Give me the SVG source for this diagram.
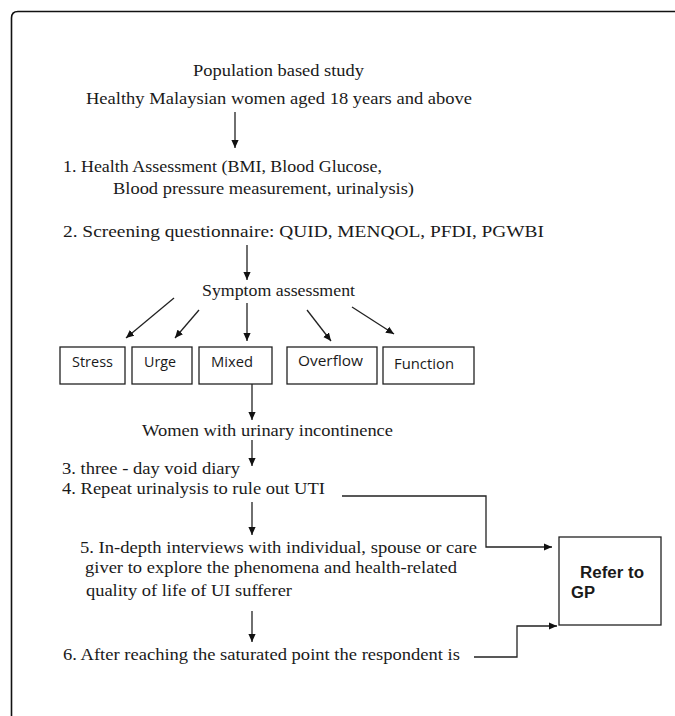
<svg xmlns="http://www.w3.org/2000/svg" width="675" height="716" viewBox="0 0 675 716">
<style>
.t{font-family:"Times New Roman","Liberation Serif",serif;font-size:17px;fill:#1a1a1a}
.s{font-family:"Open Sans","Liberation Sans",Arial,sans-serif;font-size:14px;fill:#1a1a1a}
.b{font-family:"Liberation Sans",Arial,sans-serif;font-size:16px;font-weight:bold;fill:#1a1a1a}
.box{fill:#fff;stroke:#222;stroke-width:1.3}
.c{fill:none;stroke:#222;stroke-width:1.3}
</style>
<defs>
<marker id="ah" viewBox="0 0 10 10" refX="10" refY="5" markerWidth="8" markerHeight="8" orient="auto" markerUnits="userSpaceOnUse">
<path d="M0,0.5 L10,5 L0,9.5 z" fill="#111"/>
</marker>
</defs>
<rect width="675" height="716" fill="#fff"/>
<path d="M11.5,716 V18 Q11.5,11.5 18,11.5 H675" fill="none" stroke="#111" stroke-width="1.6"/>

<g id="population">
<text class="t" x="193" y="76" textLength="171" lengthAdjust="spacingAndGlyphs">Population based study</text>
<text class="t" x="86" y="104" textLength="386" lengthAdjust="spacingAndGlyphs">Healthy Malaysian women aged 18 years and above</text>
</g>
<g id="step1">
<text class="t" x="63" y="172" textLength="319" lengthAdjust="spacingAndGlyphs">1.  Health Assessment  (BMI, Blood Glucose,</text>
<text class="t" x="113" y="194" textLength="301" lengthAdjust="spacingAndGlyphs">Blood pressure measurement, urinalysis)</text>
</g>
<g id="step2">
<text class="t" x="63" y="237" textLength="481" lengthAdjust="spacingAndGlyphs">2.   Screening questionnaire:  QUID, MENQOL,  PFDI, PGWBI</text>
</g>
<g id="symptom">
<text class="t" x="202" y="296" textLength="153" lengthAdjust="spacingAndGlyphs">Symptom assessment</text>
</g>
<g id="stress">
<rect class="box" x="60" y="347" width="65" height="37"/>
<text class="s" x="72" y="367" textLength="41" lengthAdjust="spacingAndGlyphs">Stress</text>
</g>
<g id="urge">
<rect class="box" x="132" y="347" width="60" height="37"/>
<text class="s" x="144" y="367" textLength="32" lengthAdjust="spacingAndGlyphs">Urge</text>
</g>
<g id="mixed">
<rect class="box" x="199" y="347" width="73" height="37"/>
<text class="s" x="211" y="367" textLength="42" lengthAdjust="spacingAndGlyphs">Mixed</text>
</g>
<g id="overflow">
<rect class="box" x="287" y="347" width="90" height="37"/>
<text class="s" x="298" y="366" textLength="65" lengthAdjust="spacingAndGlyphs">Overflow</text>
</g>
<g id="function">
<rect class="box" x="383" y="347" width="91" height="37"/>
<text class="s" x="394" y="369" textLength="60" lengthAdjust="spacingAndGlyphs">Function</text>
</g>
<g id="women">
<text class="t" x="142" y="436" textLength="251" lengthAdjust="spacingAndGlyphs">Women with urinary incontinence</text>
</g>
<g id="step3">
<text class="t" x="62" y="474" textLength="178" lengthAdjust="spacingAndGlyphs">3. three - day void diary</text>
</g>
<g id="step4">
<text class="t" x="62" y="494" textLength="263" lengthAdjust="spacingAndGlyphs">4. Repeat urinalysis to rule out UTI</text>
</g>
<g id="step5">
<text class="t" x="80" y="553" textLength="397" lengthAdjust="spacingAndGlyphs">5. In-depth interviews with individual, spouse or care</text>
<text class="t" x="85" y="573" textLength="372" lengthAdjust="spacingAndGlyphs">giver to explore the phenomena and health-related</text>
<text class="t" x="86" y="596" textLength="206" lengthAdjust="spacingAndGlyphs">quality of life of UI sufferer</text>
</g>
<g id="step6">
<text class="t" x="63" y="660" textLength="397" lengthAdjust="spacingAndGlyphs">6. After reaching the saturated point the respondent is</text>
</g>
<g id="refer">
<rect class="box" x="559" y="537" width="102" height="88"/>
<text class="b" x="580" y="578" textLength="64" lengthAdjust="spacingAndGlyphs">Refer to</text>
<text class="b" x="571" y="598" textLength="24" lengthAdjust="spacingAndGlyphs">GP</text>
</g>

<g id="connectors" class="c">
<line x1="235" y1="112" x2="235" y2="148" marker-end="url(#ah)"/>
<line x1="247" y1="245" x2="247" y2="280" marker-end="url(#ah)"/>
<line x1="174" y1="298" x2="126" y2="338" marker-end="url(#ah)"/>
<line x1="199" y1="310" x2="175" y2="338" marker-end="url(#ah)"/>
<line x1="247" y1="303" x2="247" y2="341" marker-end="url(#ah)"/>
<line x1="307" y1="310" x2="331" y2="341" marker-end="url(#ah)"/>
<line x1="352" y1="307" x2="394" y2="334" marker-end="url(#ah)"/>
<line x1="252" y1="384" x2="252" y2="420" marker-end="url(#ah)"/>
<line x1="252" y1="440" x2="252" y2="466" marker-end="url(#ah)"/>
<line x1="252" y1="502" x2="252" y2="535" marker-end="url(#ah)"/>
<line x1="252" y1="611" x2="252" y2="642" marker-end="url(#ah)"/>
<polyline points="342,496 486,496 486,547 552,547" marker-end="url(#ah)"/>
<polyline points="474,657 517,657 517,626 557,626" marker-end="url(#ah)"/>
</g>
</svg>
